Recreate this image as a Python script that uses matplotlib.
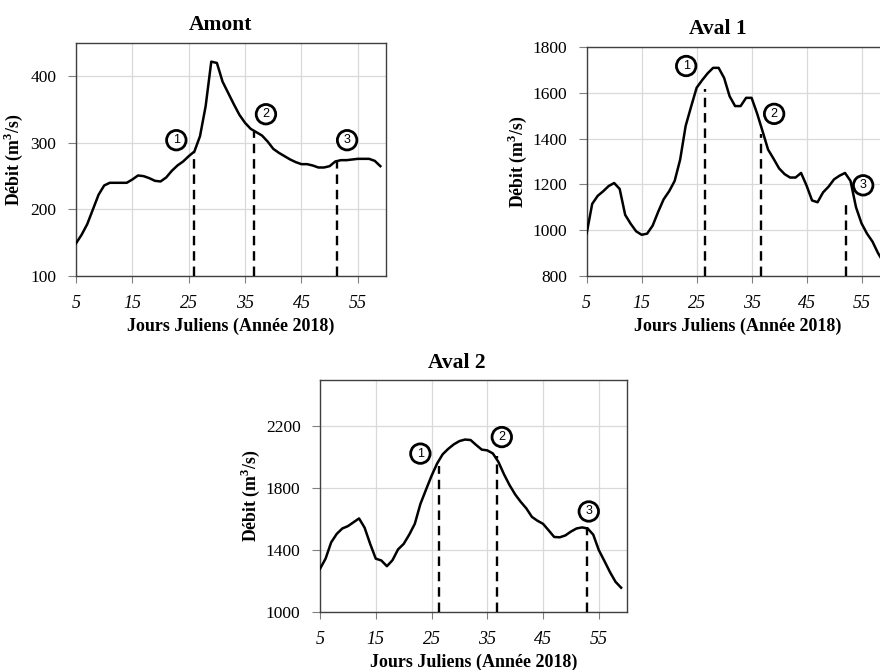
import matplotlib
matplotlib.use("Agg")
import matplotlib.pyplot as plt
import numpy as np

plt.rcParams["mathtext.fontset"] = "custom"
plt.rcParams["mathtext.rm"] = "Liberation Serif"
plt.rcParams["mathtext.bf"] = "Liberation Serif:bold"

days = list(range(5, 60))

amont = [149, 162, 178, 200, 222, 236, 240, 240, 240, 240, 245, 251, 250, 247, 243,
         242, 248, 258, 266, 272, 280, 287, 310, 355, 422, 420, 392, 375, 358, 342,
         330, 321, 316, 311, 302, 291, 285, 280, 275, 271, 268, 268, 266, 263, 263,
         265, 272, 274, 274, 275, 276, 276, 276, 273, 265]

aval1 = [987, 1115, 1150, 1170, 1193, 1206, 1180, 1067, 1028, 995, 980, 985, 1020,
         1080, 1135, 1170, 1215, 1308, 1455, 1540, 1622, 1655, 1685, 1709, 1709,
         1665, 1585, 1542, 1542, 1578, 1578, 1510, 1432, 1352, 1312, 1270, 1245,
         1230, 1230, 1250, 1195, 1130, 1122, 1165, 1190, 1222, 1238, 1250, 1215,
         1100, 1030, 985, 950, 900, 860]

aval2 = [1279, 1345, 1450, 1505, 1540, 1555, 1580, 1605, 1545, 1440, 1345, 1333,
         1296, 1335, 1405, 1440, 1500, 1570, 1698, 1790, 1880, 1960, 2020, 2055,
         2084, 2105, 2115, 2112, 2080, 2050, 2045, 2025, 1970, 1890, 1820, 1760,
         1712, 1670, 1615, 1590, 1570, 1528, 1485, 1483, 1495, 1520, 1540, 1547,
         1540, 1500, 1400, 1330, 1258, 1195, 1157]

xticks = [5, 15, 25, 35, 45, 55]

# vertical dashed markers: (day, top value)
amont_marks = [(26.0, 286), (36.5, 316), (51.3, 274)]
aval1_marks = [(26.5, 1618), (36.8, 1418), (52.2, 1133)]
aval2_marks = [(26.4, 1945), (36.7, 2009), (52.9, 1547)]

# circled labels: (text, day, value)
amont_circ = [("1", 22.8, 304), ("2", 38.7, 343), ("3", 53.1, 304)]
aval1_circ = [("1", 23.1, 1717), ("2", 39.1, 1508), ("3", 55.3, 1196)]
aval2_circ = [("1", 23.0, 2024), ("2", 37.6, 2131), ("3", 53.2, 1650)]

W, H = 880, 670
fig = plt.figure(figsize=(W / 100, H / 100), dpi=100)

serif = "Liberation Serif"


def make_ax(left, right, top, bottom, title, title_x, x, y, ylim, yticks,
            marks, circ, ylab_off):
    ax = fig.add_axes([left / W, 1 - bottom / H, (right - left) / W,
                       (bottom - top) / H])
    ax.plot(x, y, color="black", lw=1.8, zorder=3)
    for d, v in marks:
        ax.plot([d, d], [ylim[0], v], color="black", lw=1.7,
                linestyle=(0, (4, 2.5)), zorder=3)
    for t, d, v in circ:
        ax.text(d, v, t, ha="center", va="center", fontsize=9,
                family="Liberation Sans", zorder=5,
                bbox=dict(boxstyle="circle,pad=0.3", fc="white", ec="black",
                          lw=2))
    ax.set_xlim(5, 60)
    ax.set_ylim(*ylim)
    ax.set_xticks(xticks)
    ax.set_yticks(yticks)
    ax.set_xticklabels([str(v) for v in xticks], family=serif, style="italic",
                       fontsize=13)
    ax.set_yticklabels([str(v) for v in yticks], family=serif, fontsize=12.5)
    ax.grid(True, color="#d9d9d9", lw=0.9, zorder=0)
    ax.set_axisbelow(True)
    for s in ax.spines.values():
        s.set_color("#404040")
        s.set_linewidth(1.0)
    ax.tick_params(axis="x", direction="out", length=5, color="#808080",
                   pad=9)
    ax.tick_params(axis="y", direction="out", length=6, color="#808080",
                   pad=8)
    ax.set_title(title, family=serif, fontweight="bold", fontsize=15.5,
                 pad=9, x=title_x)
    ax.set_xlabel("Jours Juliens (Année 2018)", family=serif,
                  fontweight="bold", fontsize=13, labelpad=4)
    ax.set_ylabel("Débit (m$^{\\mathbf{3}}$/s)", family=serif,
                  fontweight="bold", fontsize=12.8)
    ax.yaxis.set_label_coords(-ylab_off / (right - left), 0.5)
    return ax


make_ax(76, 386, 43, 276, "Amont", 0.467, days, amont, (100, 450),
        [100, 200, 300, 400], amont_marks, amont_circ, 51)
make_ax(586.7, 889, 47, 276, "Aval 1", 0.434, days, aval1, (800, 1800),
        [800, 1000, 1200, 1400, 1600, 1800], aval1_marks, aval1_circ, 58)
make_ax(320, 626.7, 380, 612, "Aval 2", 0.446, days, aval2, (1000, 2500),
        [1000, 1400, 1800, 2200], aval2_marks, aval2_circ, 58)

fig.savefig("out.png", dpi=100)
